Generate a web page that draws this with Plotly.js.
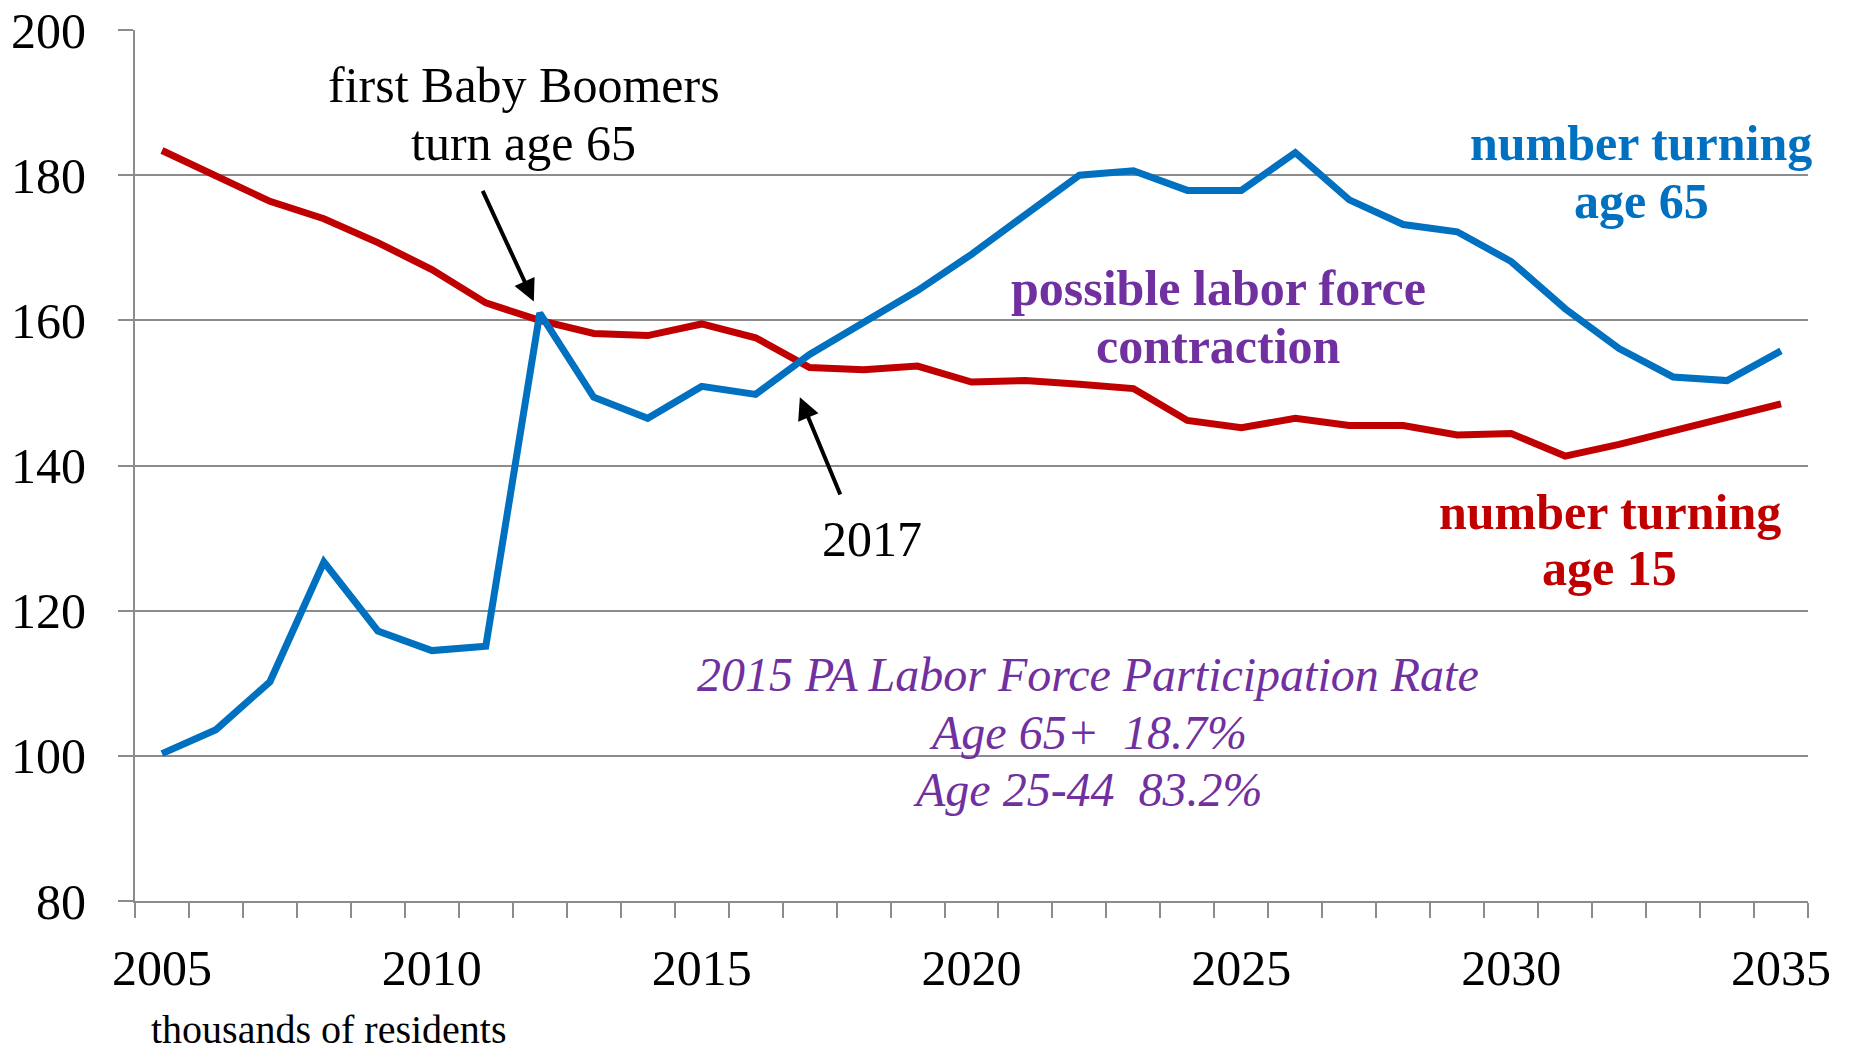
<!DOCTYPE html>
<html>
<head>
<meta charset="utf-8">
<script src="https://cdn.plot.ly/plotly-3.0.1.min.js"></script>
<style>html,body{margin:0;padding:0;background:#fff;}#chart{width:1852px;height:1055px;}</style>
</head>
<body>
<div id="chart"></div>
<script>
const years = [2005,2006,2007,2008,2009,2010,2011,2012,2013,2014,2015,2016,2017,2018,2019,2020,2021,2022,2023,2024,2025,2026,2027,2028,2029,2030,2031,2032,2033,2034,2035];
const turning65 = [100.3,103.6,110.2,126.7,117.2,114.5,115.1,161.0,149.4,146.5,150.9,149.8,155.3,159.8,164.1,169.1,174.5,180.0,180.6,177.9,177.9,183.1,176.6,173.2,172.2,168.1,161.6,156.1,152.2,151.7,155.8];
const turning15 = [183.4,180.0,176.4,174.0,170.7,167.0,162.4,160.0,158.2,157.9,159.5,157.6,153.5,153.2,153.7,151.5,151.7,151.2,150.6,146.2,145.2,146.5,145.5,145.5,144.2,144.4,141.3,142.9,144.7,146.7,148.5];
const xTickLabels = [2005,2010,2015,2020,2025,2030,2035];
const yTickLabels = [80,100,120,140,160,180,200];

const FONT = 'Liberation Serif, Times New Roman, serif';
const BLUE = '#0070C0', RED = '#C00000', PURPLE = '#7030A0', GRID = '#8c8c8c';

const traces = [
  {x: years, y: turning15, type: 'scatter', mode: 'lines', line: {color: RED, width: 7}, name: 'number turning age 15', hoverinfo: 'x+y'},
  {x: years, y: turning65, type: 'scatter', mode: 'lines', line: {color: BLUE, width: 7}, name: 'number turning age 65', hoverinfo: 'x+y'}
];

function txt(text, x, y, color, size, extra) {
  return Object.assign({text: text, x: x, y: y, xref: 'x', yref: 'y', showarrow: false,
    xanchor: 'center', yanchor: 'middle', font: {family: FONT, size: size, color: color}}, extra || {});
}

const annotations = [
  txt('first Baby Boomers', 2011.70, 192.36, '#000', 50),
  txt('turn age 65', 2011.70, 184.39, '#000', 50),
  txt('<b>number turning</b>', 2032.41, 184.39, BLUE, 50),
  txt('<b>age 65</b>', 2032.41, 176.42, BLUE, 50),
  txt('<b>possible labor force</b>', 2024.58, 164.39, PURPLE, 50),
  txt('<b>contraction</b>', 2024.58, 156.42, PURPLE, 50),
  txt('<b>number turning</b>', 2031.83, 133.66, RED, 50),
  txt('<b>age 15</b>', 2031.83, 125.85, RED, 50),
  txt('2017', 2018.15, 129.9, '#000', 50),
  txt('<i>2015 PA Labor Force Participation Rate</i>', 2022.16, 111.2, PURPLE, 48),
  txt('<i>Age 65+  18.7%</i>', 2022.16, 103.25, PURPLE, 48),
  txt('<i>Age 25-44  83.2%</i>', 2022.16, 95.3, PURPLE, 48),
  {text: 'thousands of residents', xref: 'paper', yref: 'paper', x: 0.116, y: -0.147, showarrow: false,
   xanchor: 'center', yanchor: 'middle', font: {family: FONT, size: 40, color: '#000'}},
  {text: '', x: 2011.89, y: 162.6, ax: 2010.93, ay: 178.05, xref: 'x', yref: 'y', axref: 'x', ayref: 'y',
   showarrow: true, arrowhead: 2, arrowsize: 1.1, arrowwidth: 4, arrowcolor: '#000', standoff: 0},
  {text: '', x: 2016.82, y: 149.4, ax: 2017.58, ay: 135.8, xref: 'x', yref: 'y', axref: 'x', ayref: 'y',
   showarrow: true, arrowhead: 2, arrowsize: 1.1, arrowwidth: 4, arrowcolor: '#000', standoff: 0}
];

const layout = {
  width: 1852, height: 1055,
  margin: {l: 135, r: 44, t: 30, b: 154},
  paper_bgcolor: '#fff', plot_bgcolor: '#fff',
  showlegend: false,
  font: {family: FONT, size: 50, color: '#000'},
  xaxis: {
    range: [2004.5, 2035.5], tickmode: 'array', tickvals: xTickLabels, ticktext: xTickLabels.map(String),
    ticks: '', showgrid: false, zeroline: false, showline: true, linecolor: GRID, linewidth: 2,
    tickfont: {family: FONT, size: 50, color: '#000'}, ticklabelstandoff: 22,
    minor: {tickmode: 'linear', tick0: 2004.5, dtick: 1, ticks: 'outside', ticklen: 15, tickwidth: 2, tickcolor: GRID, showgrid: false}
  },
  yaxis: {
    range: [80, 200], tickmode: 'array', tickvals: yTickLabels, ticktext: yTickLabels.map(String),
    ticks: 'outside', ticklen: 15, tickwidth: 2, tickcolor: GRID,
    showgrid: true, gridcolor: GRID, gridwidth: 2, zeroline: false,
    showline: true, linecolor: GRID, linewidth: 2,
    tickfont: {family: FONT, size: 50, color: '#000'}, ticklabelstandoff: 22
  },
  annotations: annotations
};

Plotly.newPlot('chart', traces, layout, {displayModeBar: false, staticPlot: true});
</script>
</body>
</html>
